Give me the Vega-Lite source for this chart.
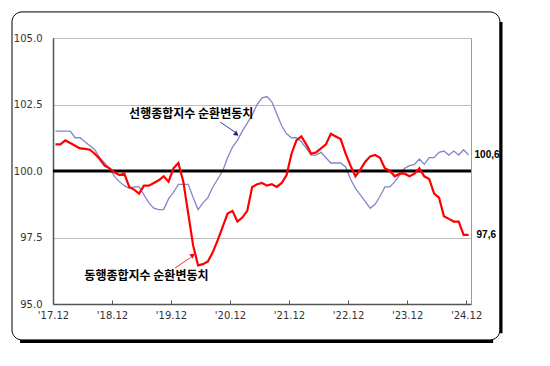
{
  "$schema": "https://vega.github.io/schema/vega-lite/v6.json",
  "width": 418,
  "height": 266,
  "autosize": {"type": "none"},
  "padding": {"left": 53, "top": 38, "right": 79, "bottom": 62},
  "background": "white",
  "config": {
    "view": {"stroke": "#9a9a9a", "strokeWidth": 1},
    "axis": {"labelFont": "DejaVu Sans", "labelFontSize": 10, "labelColor": "#333333", "domainColor": "#555555", "domainWidth": 1.5, "tickColor": "#555555", "title": null}
  },
  "datasets": {
    "one": [{}],
    "series": [
    {"m":0,"lead":101.5,"coin":101.0},{"m":1,"lead":101.5,"coin":101.0},{"m":2,"lead":101.5,"coin":101.15},{"m":3,"lead":101.5,"coin":101.05},{"m":4,"lead":101.25,"coin":100.95},{"m":5,"lead":101.25,"coin":100.85},{"m":6,"lead":101.1,"coin":100.83},{"m":7,"lead":100.95,"coin":100.8},{"m":8,"lead":100.8,"coin":100.65},{"m":9,"lead":100.5,"coin":100.45},
    {"m":10,"lead":100.3,"coin":100.2},{"m":11,"lead":100.1,"coin":100.1},{"m":12,"lead":99.8,"coin":99.95},{"m":13,"lead":99.6,"coin":99.85},{"m":14,"lead":99.45,"coin":99.9},{"m":15,"lead":99.35,"coin":99.4},{"m":16,"lead":99.4,"coin":99.3},{"m":17,"lead":99.4,"coin":99.15},{"m":18,"lead":99.1,"coin":99.45},{"m":19,"lead":98.8,"coin":99.45},
    {"m":20,"lead":98.6,"coin":99.55},{"m":21,"lead":98.55,"coin":99.65},{"m":22,"lead":98.55,"coin":99.8},{"m":23,"lead":98.95,"coin":99.6},{"m":24,"lead":99.2,"coin":100.1},{"m":25,"lead":99.5,"coin":100.3},{"m":26,"lead":99.5,"coin":99.6},{"m":27,"lead":99.5,"coin":98.4},{"m":28,"lead":99.0,"coin":97.2},{"m":29,"lead":98.55,"coin":96.45},
    {"m":30,"lead":98.8,"coin":96.5},{"m":31,"lead":99.0,"coin":96.6},{"m":32,"lead":99.4,"coin":96.95},{"m":33,"lead":99.7,"coin":97.4},{"m":34,"lead":100.0,"coin":97.9},{"m":35,"lead":100.5,"coin":98.4},{"m":36,"lead":100.9,"coin":98.5},{"m":37,"lead":101.15,"coin":98.1},{"m":38,"lead":101.5,"coin":98.25},{"m":39,"lead":101.8,"coin":98.5},
    {"m":40,"lead":102.1,"coin":99.4},{"m":41,"lead":102.5,"coin":99.5},{"m":42,"lead":102.75,"coin":99.55},{"m":43,"lead":102.8,"coin":99.45},{"m":44,"lead":102.6,"coin":99.5},{"m":45,"lead":102.15,"coin":99.4},{"m":46,"lead":101.7,"coin":99.55},{"m":47,"lead":101.4,"coin":99.85},{"m":48,"lead":101.25,"coin":100.65},{"m":49,"lead":101.25,"coin":101.15},
    {"m":50,"lead":101.1,"coin":101.3},{"m":51,"lead":100.85,"coin":101.0},{"m":52,"lead":100.6,"coin":100.65},{"m":53,"lead":100.6,"coin":100.7},{"m":54,"lead":100.7,"coin":100.85},{"m":55,"lead":100.5,"coin":101.0},{"m":56,"lead":100.3,"coin":101.4},{"m":57,"lead":100.3,"coin":101.3},{"m":58,"lead":100.3,"coin":101.2},{"m":59,"lead":100.15,"coin":100.65},
    {"m":60,"lead":99.7,"coin":100.2},{"m":61,"lead":99.35,"coin":99.8},{"m":62,"lead":99.1,"coin":100.05},{"m":63,"lead":98.85,"coin":100.35},{"m":64,"lead":98.6,"coin":100.55},{"m":65,"lead":98.75,"coin":100.6},{"m":66,"lead":99.05,"coin":100.5},{"m":67,"lead":99.4,"coin":100.1},{"m":68,"lead":99.4,"coin":100.0},{"m":69,"lead":99.6,"coin":99.8},
    {"m":70,"lead":99.85,"coin":99.9},{"m":71,"lead":100.1,"coin":99.9},{"m":72,"lead":100.2,"coin":99.8},{"m":73,"lead":100.25,"coin":99.9},{"m":74,"lead":100.45,"coin":100.1},{"m":75,"lead":100.25,"coin":99.8},{"m":76,"lead":100.5,"coin":99.7},{"m":77,"lead":100.5,"coin":99.15},{"m":78,"lead":100.7,"coin":99.0},{"m":79,"lead":100.75,"coin":98.3},
    {"m":80,"lead":100.6,"coin":98.2},{"m":81,"lead":100.75,"coin":98.1},{"m":82,"lead":100.6,"coin":98.1},{"m":83,"lead":100.8,"coin":97.6},{"m":84,"lead":100.6,"coin":97.6}
    ]
  },
  "layer": [
    {"data": {"name": "series"},
     "mark": {"type": "line", "color": "#8585c8", "strokeWidth": 1.3},
     "encoding": {
       "x": {"field": "m", "type": "quantitative", "scale": {"domain": [-0.5, 84.5], "nice": false, "zero": false},
         "axis": {"values": [-0.5, 11.5, 23.5, 35.5, 47.5, 59.5, 71.5, 83.5], "labelExpr": "\"'\" + (17 + (datum.value + 0.5) / 12) + '.12'", "grid": false, "tickSize": -4, "labelPadding": 10, "labelFlush": false}},
       "y": {"field": "lead", "type": "quantitative", "scale": {"domain": [95, 105], "nice": false, "zero": false},
         "axis": {"values": [95, 97.5, 100, 102.5, 105], "format": ".1f", "grid": true, "gridColor": "#bdbdbd", "gridWidth": 1, "ticks": false, "labelPadding": 11}}}},
    {"data": {"name": "one"},
     "mark": {"type": "rect", "clip": false, "fill": null, "stroke": "black", "strokeWidth": 1, "cornerRadius": 10},
     "encoding": {"x": {"datum": -8.84}, "x2": {"datum": 90.39}, "y": {"datum": 93.65}, "y2": {"datum": 105.98}}},
    {"data": {"name": "one"},
     "mark": {"type": "rule", "clip": false, "stroke": "black", "strokeWidth": 3},
     "encoding": {"x": {"datum": 90.6}, "y": {"datum": 93.9}, "y2": {"datum": 105.6}}},
    {"data": {"name": "one"},
     "mark": {"type": "rule", "clip": false, "stroke": "black", "strokeWidth": 3},
     "encoding": {"y": {"datum": 93.59}, "x": {"datum": -7.2}, "x2": {"datum": 89.0}}},
    {"data": {"name": "one"},
     "mark": {"type": "rule", "stroke": "black", "strokeWidth": 3},
     "encoding": {"y": {"datum": 100}, "x": {"datum": -0.5}, "x2": {"datum": 84.5}}},
    {"data": {"name": "series"},
     "mark": {"type": "line", "color": "#ff0000", "strokeWidth": 2.2},
     "encoding": {"x": {"field": "m", "type": "quantitative"}, "y": {"field": "coin", "type": "quantitative"}}},
    {"data": {"name": "one"},
     "mark": {"type": "text", "font": "Noto Sans CJK KR", "fontWeight": "bold", "fontSize": 12, "color": "black"},
     "encoding": {"x": {"datum": 27.6}, "y": {"datum": 102.14}, "text": {"value": "선행종합지수 순환변동치"}}},
    {"data": {"name": "one"},
     "mark": {"type": "text", "font": "Noto Sans CJK KR", "fontWeight": "bold", "fontSize": 12, "color": "black"},
     "encoding": {"x": {"datum": 18.5}, "y": {"datum": 96.05}, "text": {"value": "동행종합지수 순환변동치"}}},
    {"data": {"name": "one"},
     "mark": {"type": "rule", "stroke": "#3a3a9a", "strokeWidth": 1},
     "encoding": {"x": {"datum": 33.5}, "x2": {"datum": 36.6}, "y": {"datum": 101.84}, "y2": {"datum": 101.45}}},
    {"data": {"name": "one"},
     "mark": {"type": "point", "shape": "triangle", "filled": true, "color": "#1e1e8a", "size": 30, "angle": 127, "opacity": 1},
     "encoding": {"x": {"datum": 36.7}, "y": {"datum": 101.4}}},
    {"data": {"name": "one"},
     "mark": {"type": "rule", "stroke": "#ff3030", "strokeWidth": 1},
     "encoding": {"x": {"datum": 24.3}, "x2": {"datum": 27.5}, "y": {"datum": 96.35}, "y2": {"datum": 96.75}}},
    {"data": {"name": "one"},
     "mark": {"type": "point", "shape": "triangle", "filled": true, "color": "#ff0000", "size": 30, "angle": 54, "opacity": 1},
     "encoding": {"x": {"datum": 27.8}, "y": {"datum": 96.82}}},
    {"data": {"name": "one"},
     "mark": {"type": "text", "align": "left", "dx": 6, "font": "Liberation Sans", "fontWeight": "bold", "fontSize": 10, "color": "black", "clip": false},
     "encoding": {"x": {"datum": 84}, "y": {"datum": 100.6}, "text": {"value": "100,6"}}},
    {"data": {"name": "one"},
     "mark": {"type": "text", "align": "left", "dx": 8, "font": "Liberation Sans", "fontWeight": "bold", "fontSize": 10, "color": "black", "clip": false},
     "encoding": {"x": {"datum": 84}, "y": {"datum": 97.6}, "text": {"value": "97,6"}}}
  ]
}
